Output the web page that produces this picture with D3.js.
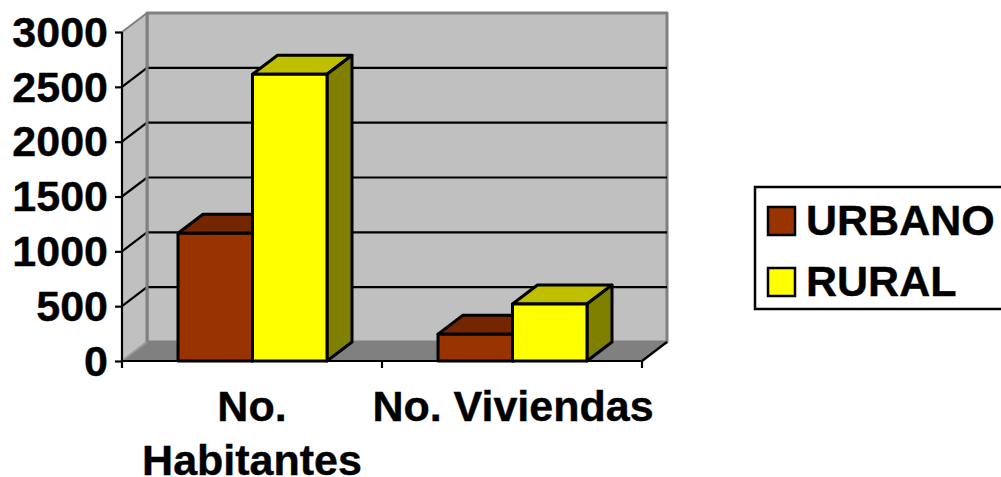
<!DOCTYPE html>
<html><head><meta charset="utf-8">
<script src="https://d3js.org/d3.v7.min.js"></script>
<style>html,body{margin:0;padding:0;background:#fff}svg{display:block}text{font-family:"Liberation Sans",Arial,sans-serif;font-weight:bold;fill:#000;stroke:#000;stroke-width:0.4px}</style>
</head><body><svg id="c" width="1001" height="477"></svg>
<script>
const categories = [["No.", "Habitantes"], ["No. Viviendas"]];
const seriesNames = ["URBANO", "RURAL"];
const urbano = [1165, 245];
const rural = [2615, 520];
const seriesColors = [["#993300", "#732600", "#732600"], ["#ffff00", "#bfbf00", "#808000"]];
const yTicks = [0, 500, 1000, 1500, 2000, 2500, 3000];
const svg = d3.select("#c");
const dx = 25, dy = -19;
const fontSize = 43;
const y = d3.scaleLinear().domain([0, 3000]).range([361, 32]);
const x = d3.scaleBand().domain(d3.range(categories.length)).range([122, 642]);
const inner = d3.scaleBand().domain([0, 1]).range([56, 205]);
const poly = (pts, fill, stroke, w) => svg.append("polygon").attr("points", pts.map(p => p.join(",")).join(" "))
  .attr("fill", fill).attr("stroke", stroke).attr("stroke-width", w).attr("stroke-linejoin", "round");
const x0 = x.range()[0], x1 = x.range()[1], yb = y(0), yt = y(3000);
// walls
poly([[x0 + dx, yt + dy], [x1 + dx, yt + dy], [x1 + dx, yb + dy], [x0 + dx, yb + dy]], "#c0c0c0", "#808080", 3);
poly([[x0, yt], [x0 + dx, yt + dy], [x0 + dx, yb + dy], [x0, yb]], "#c0c0c0", "#808080", 2);
poly([[x0, yb], [x0 + dx, yb + dy], [x1 + dx, yb + dy], [x1, yb]], "#808080", "#808080", 1);
// gridlines
yTicks.filter(t => t > 0 && t < 3000).forEach(t => {
  svg.append("path").attr("d", `M${x0},${y(t)}L${x0 + dx},${y(t) + dy}L${x1 + dx},${y(t) + dy}`)
    .attr("fill", "none").attr("stroke", "#000").attr("stroke-width", 2.2);
});
svg.append("line").attr("x1", x0 + dx).attr("x2", x0 + dx).attr("y1", yt + dy).attr("y2", yb + dy).attr("stroke", "#808080").attr("stroke-width", 3);
svg.append("path").attr("d", `M${x0},${yb}L${x0 + dx},${yb + dy}`).attr("stroke", "#a0a0a0").attr("stroke-width", 1.5);
// axes
const yAxis = d3.axisLeft(y).tickValues(yTicks).tickSize(7).tickFormat(d3.format("d"));
const gy = svg.append("g").attr("transform", `translate(${x0},0)`).call(yAxis);
gy.selectAll("path,line").attr("stroke", "#000").attr("stroke-width", 2.2);
gy.select("path").attr("d", `M0,${yt}V${yb}`);
gy.selectAll("text").attr("font-size", fontSize).attr("text-anchor", "end").attr("x", -14).attr("dy", "0.33em");
const xt = svg.append("g");
xt.append("line").attr("x1", x0).attr("x2", x1).attr("y1", yb).attr("y2", yb).attr("stroke", "#000").attr("stroke-width", 2.2);
[x0, x0 + x.bandwidth(), x1].forEach(v => xt.append("line").attr("x1", v).attr("x2", v).attr("y1", yb).attr("y2", yb + 7).attr("stroke", "#000").attr("stroke-width", 2.2));
xt.append("path").attr("d", `M${x1},${yb}L${x1 + dx},${yb + dy}`).attr("stroke", "#000").attr("stroke-width", 2.2);
// bars
[urbano, rural].forEach((vals, s) => vals.forEach((v, i) => {
  const l = x(i) + inner(s), r = l + inner.bandwidth(), t = y(v), b = y(0);
  const [front, top, side] = seriesColors[s];
  poly([[l, t], [l + dx, t + dy], [r + dx, t + dy], [r, t]], top, "#000", 3);
  poly([[r, t], [r + dx, t + dy], [r + dx, b + dy], [r, b]], side, "#000", 3);
  poly([[l, t], [r, t], [r, b], [l, b]], front, "#000", 3);
}));
// category labels
categories.forEach((lines, i) => lines.forEach((ln, k) => {
  svg.append("text").attr("x", x(i) + x.bandwidth() / 2 + (i ? 1 : 0)).attr("y", 421 + k * 54)
    .attr("text-anchor", "middle").attr("font-size", fontSize).text(ln);
}));
// legend
svg.append("rect").attr("x", 755).attr("y", 187).attr("width", 260).attr("height", 122).attr("fill", "#fff").attr("stroke", "#000").attr("stroke-width", 2.5);
seriesNames.forEach((n, i) => {
  const ly = 235 + i * 61;
  svg.append("rect").attr("x", 768).attr("y", ly - 28).attr("width", 27).attr("height", 28).attr("fill", seriesColors[i][0]).attr("stroke", "#000").attr("stroke-width", 2.5);
  svg.append("text").attr("x", 806).attr("y", ly).attr("font-size", fontSize).text(n);
});
</script></body></html>
